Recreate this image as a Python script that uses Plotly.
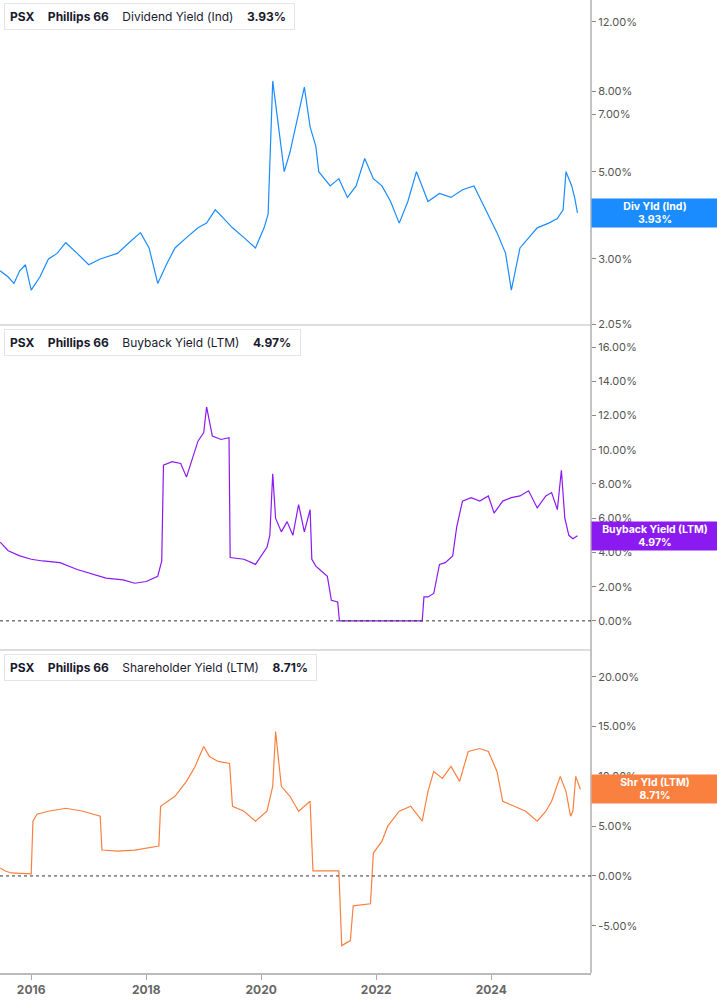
import plotly.graph_objects as go
import pandas as pd
import math

div_t = [2015.46,2015.6,2015.7,2015.8,2015.9,2016.0,2016.15,2016.3,2016.45,2016.6,2016.8,2017.0,2017.2,2017.5,2017.7,2017.9,2018.05,2018.2,2018.35,2018.5,2018.7,2018.9,2019.05,2019.2,2019.35,2019.5,2019.7,2019.9,2020.05,2020.12,2020.2,2020.3,2020.4,2020.5,2020.6,2020.75,2020.85,2020.95,2021.0,2021.2,2021.35,2021.5,2021.65,2021.8,2021.95,2022.1,2022.25,2022.4,2022.55,2022.7,2022.9,2023.1,2023.3,2023.5,2023.7,2023.8,2023.95,2024.1,2024.25,2024.35,2024.5,2024.65,2024.8,2025.0,2025.15,2025.25,2025.3,2025.4,2025.45,2025.5]
div_v = [2.8,2.7,2.6,2.8,2.9,2.5,2.7,3.0,3.1,3.3,3.1,2.9,3.0,3.1,3.3,3.5,3.2,2.6,2.9,3.2,3.4,3.6,3.7,4.0,3.8,3.6,3.4,3.2,3.6,3.9,8.5,6.5,5.0,5.6,6.5,8.2,6.5,5.8,5.0,4.6,4.8,4.3,4.6,5.4,4.8,4.6,4.2,3.7,4.2,5.0,4.2,4.4,4.3,4.5,4.6,4.3,3.9,3.5,3.1,2.5,3.2,3.4,3.6,3.7,3.8,4.0,5.0,4.6,4.3,3.93]

buy_t = [2015.46,2015.6,2015.8,2016.0,2016.2,2016.5,2016.8,2017.0,2017.3,2017.6,2017.8,2018.0,2018.2,2018.27,2018.3,2018.45,2018.6,2018.7,2018.8,2018.9,2019.0,2019.05,2019.15,2019.3,2019.44,2019.46,2019.7,2019.9,2020.1,2020.15,2020.2,2020.25,2020.35,2020.45,2020.55,2020.65,2020.75,2020.85,2020.88,2020.95,2021.05,2021.15,2021.22,2021.3,2021.33,2021.36,2022.8,2022.83,2022.9,2023.0,2023.1,2023.2,2023.33,2023.4,2023.5,2023.65,2023.8,2023.95,2024.05,2024.2,2024.35,2024.5,2024.65,2024.8,2024.95,2025.05,2025.15,2025.22,2025.28,2025.35,2025.42,2025.5]
buy_v = [4.6,4.1,3.8,3.6,3.5,3.4,3.0,2.8,2.5,2.4,2.2,2.3,2.6,3.5,9.1,9.3,9.2,8.4,9.5,10.5,11.0,12.5,10.8,10.6,10.7,3.7,3.6,3.3,4.3,5.0,8.6,6.0,5.2,5.8,5.0,6.8,5.2,6.5,3.6,3.2,2.9,2.6,1.2,1.1,1.1,0.0,0.0,1.4,1.4,1.6,3.3,3.4,3.8,5.5,7.0,7.2,7.0,7.3,6.3,7.0,7.2,7.3,7.6,6.6,7.3,7.5,6.5,8.8,6.0,5.0,4.8,4.97]

shr_t = [2015.46,2015.55,2015.65,2016.0,2016.03,2016.1,2016.3,2016.6,2016.9,2017.2,2017.23,2017.5,2017.8,2018.0,2018.22,2018.25,2018.5,2018.7,2018.85,2019.0,2019.1,2019.25,2019.45,2019.5,2019.7,2019.9,2020.1,2020.2,2020.25,2020.35,2020.5,2020.65,2020.85,2020.9,2021.35,2021.4,2021.55,2021.6,2021.9,2021.95,2022.1,2022.2,2022.4,2022.6,2022.8,2022.9,2023.0,2023.15,2023.3,2023.45,2023.6,2023.8,2023.95,2024.1,2024.2,2024.4,2024.6,2024.8,2024.95,2025.05,2025.2,2025.3,2025.38,2025.42,2025.47,2025.55]
shr_v = [0.8,0.5,0.3,0.2,5.5,6.2,6.5,6.8,6.5,6.0,2.6,2.5,2.6,2.8,3.0,7.0,8.0,9.5,11.0,13.0,12.0,11.5,11.3,7.0,6.5,5.5,6.5,9.0,14.5,9.0,8.0,6.5,7.5,0.5,0.5,-7.0,-6.5,-3.0,-2.8,2.3,3.5,5.0,6.5,7.0,5.5,8.5,10.5,9.8,11.0,9.5,12.5,12.8,12.5,10.5,7.5,7.0,6.5,5.5,6.5,7.5,10.0,8.5,6.0,6.5,10.0,8.71]

def to_dates(ts):
    return [pd.Timestamp("2015-01-01") + pd.Timedelta(days=(t - 2015) * 365.25) for t in ts]

blue, purple, orange = "#1a8cff", "#8a1af0", "#fa8040"
fig = go.Figure()
fig.add_trace(go.Scatter(x=to_dates(div_t), y=div_v, mode="lines", line=dict(color=blue, width=1.2), xaxis="x", yaxis="y"))
fig.add_trace(go.Scatter(x=to_dates(buy_t), y=buy_v, mode="lines", line=dict(color=purple, width=1.2), xaxis="x", yaxis="y2"))
fig.add_trace(go.Scatter(x=to_dates(shr_t), y=shr_v, mode="lines", line=dict(color=orange, width=1.2), xaxis="x", yaxis="y3"))

tickfont = dict(family="Inter", size=11, color="#555")
yax = dict(side="right", showgrid=False, zeroline=False, ticks="outside", ticklen=4, tickcolor="#888", tickfont=tickfont, showline=False, fixedrange=True)
fig.update_layout(
    width=717, height=1005, margin=dict(l=0, r=126, t=0, b=32),
    paper_bgcolor="white", plot_bgcolor="white", showlegend=False,
    xaxis=dict(type="date", range=["2015-06-17", "2025-09-26"], tickvals=[f"{y}-01-01" for y in (2016, 2018, 2020, 2022, 2024)],
               ticktext=["2016", "2018", "2020", "2022", "2024"], ticks="outside", ticklen=5, tickcolor="#aaa",
               tickfont=dict(family="Inter", size=12, color="#666", weight="bold"), showgrid=False, showline=True, linecolor="#bbb", linewidth=2, anchor="y3"),
    yaxis=dict(yax, type="log", domain=[0.666, 1], range=[0.3095, 1.135], tickvals=[2.05, 3, 5, 7, 8, 12],
               ticktext=["2.05%", "3.00%", "5.00%", "7.00%", "8.00%", "12.00%"]),
    yaxis2=dict(yax, domain=[0.332, 0.666], range=[-1.7, 17.29], tickvals=[0, 2, 4, 6, 8, 10, 12, 14, 16],
                ticktext=[f"{v:.2f}%" for v in [0, 2, 4, 6, 8, 10, 12, 14, 16]]),
    yaxis3=dict(yax, domain=[0, 0.332], range=[-9.75, 22.7], tickvals=[-5, 0, 5, 10, 15, 20],
                ticktext=[f"{v:.2f}%" for v in [-5, 0, 5, 10, 15, 20]]),
)
shapes = [
    dict(type="line", xref="paper", yref="paper", x0=1, x1=1, y0=0, y1=1, line=dict(color="#888", width=1)),
    dict(type="line", xref="paper", yref="paper", x0=0, x1=1, y0=0.666, y1=0.666, line=dict(color="#bbb", width=1)),
    dict(type="line", xref="paper", yref="paper", x0=0, x1=1, y0=0.332, y1=0.332, line=dict(color="#bbb", width=1)),
    dict(type="line", xref="paper", yref="y2", x0=0, x1=1, y0=0, y1=0, line=dict(color="#333", width=1, dash="dot")),
    dict(type="line", xref="paper", yref="y3", x0=0, x1=1, y0=0, y1=0, line=dict(color="#333", width=1, dash="dot")),
]
annos = []
legends = [(blue, "Dividend Yield (Ind)", "3.93%", 1 - 17/973),
           (purple, "Buyback Yield (LTM)", "4.97%", 1 - 342/973),
           (orange, "Shareholder Yield (LTM)", "8.71%", 1 - 667/973)]
for c, name, val, yp in legends:
    annos.append(dict(xref="paper", yref="paper", x=4/591, y=yp, xanchor="left", yanchor="middle", showarrow=False,
                      text=f"<b>PSX</b>    <b>Phillips 66</b>    {name}    <b>{val}</b> ",
                      font=dict(family="Inter", size=12, color="#1a1a2e"), bgcolor="white", bordercolor="#e4e4e4", borderwidth=1,
                      borderpad=5, align="left"))
    shapes.append(dict(type="rect", xref="paper", yref="paper", x0=4/591, x1=7/591, y0=yp - 11/973, y1=yp + 11/973, fillcolor=c, line=dict(width=0)))
labels = [(blue, "Div Yld (Ind)", "3.93%", "y", 3.93), (purple, "Buyback Yield (LTM)", "4.97%", "y2", 4.97), (orange, "Shr Yld (LTM)", "8.71%", "y3", 8.71)]
for c, n, v, ax, val in labels:
    yy = math.log10(val) if ax == "y" else val
    annos.append(dict(xref="paper", yref=ax, x=1, y=yy, xanchor="left", yanchor="middle", showarrow=False,
                      text=f"<b>{n}</b><br><b>{v}</b>", font=dict(family="Inter", size=10.5, color="white"),
                      bgcolor=c, width=124, height=26, borderpad=1, align="center"))
fig.update_layout(shapes=shapes, annotations=annos)
fig.write_html("out.html", config={"displayModeBar": False},
               post_script="document.body.style.margin='0';document.body.style.overflow='hidden';")
